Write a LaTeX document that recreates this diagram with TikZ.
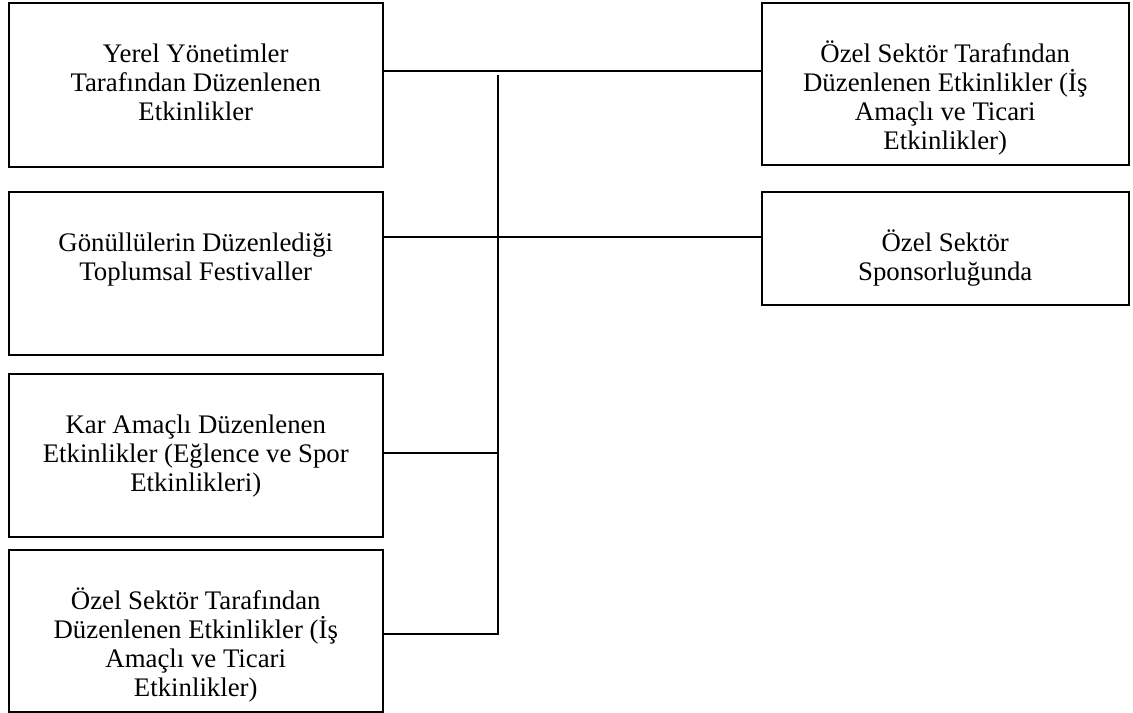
\documentclass[tikz,border=0pt]{standalone}
\usepackage{fontspec}
\setmainfont{Liberation Serif}
\usepackage{tikz}
\usetikzlibrary{calc}
\tikzset{
    kutu/.style = {draw, rectangle, line width=0.75pt, anchor=north west,
        inner sep=0pt, minimum width=187pt},
    sagkutu/.style = {kutu, minimum width=183.5pt},
    metin/.style = {anchor=north, align=center, inner sep=0pt, yshift=-19pt,
        font=\fontsize{13.4}{14.6}\selectfont},
    hat/.style = {draw, line width=0.75pt}
}
\newcommand{\ust}{\vphantom{Ö}}

\begin{document}
\begin{tikzpicture}[x=0.5pt,y=-0.5pt]
            \useasboundingbox (0,0) rectangle (1133,712);
            % sol sutun
            \node[kutu,minimum height=82pt,label={[metin]north:{\ust Yerel Yönetimler\\Tarafından Düzenlenen\\Etkinlikler}}] (yerel) at (8,2) {};
            \node[kutu,minimum height=81.5pt,label={[metin]north:{\ust Gönüllülerin Düzenlediği\\Toplumsal Festivaller}}] (gonullu) at (8,191) {};
            \node[kutu,minimum height=81.5pt,label={[metin]north:{\ust Kar Amaçlı Düzenlenen\\Etkinlikler (Eğlence ve Spor\\Etkinlikleri)}}] (kar) at (8,373) {};
            \node[kutu,minimum height=81pt,label={[metin]north:{\ust Özel Sektör Tarafından\\Düzenlenen Etkinlikler (İş\\Amaçlı ve Ticari\\Etkinlikler)}}] (ozelsol) at (8,549) {};
            % sag sutun
            \node[sagkutu,minimum height=81pt,label={[metin]north:{\ust Özel Sektör Tarafından\\Düzenlenen Etkinlikler (İş\\Amaçlı ve Ticari\\Etkinlikler)}}] (ozel) at (761,2) {};
            \node[sagkutu,minimum height=56.5pt,label={[metin]north:{\ust Özel Sektör\\Sponsorluğunda}}] (sponsor) at (761,191) {};
            % omurga
            \coordinate (omurga) at (498,75);
            \coordinate (hat1) at (0,71);
            \coordinate (hat2) at (0,237);
            \coordinate (hat3) at (0,453);
            \coordinate (hat4) at (0,634);
            \draw[hat] (yerel.east |- hat1) -- (ozel.west |- hat1);
            \draw[hat] (gonullu.east |- hat2) -- (sponsor.west |- hat2);
            \draw[hat] (kar.east |- hat3) -- (omurga |- hat3);
            \draw[hat] (ozelsol.east |- hat4) -- (omurga |- hat4) -- (omurga);
        \end{tikzpicture}
\end{document}
